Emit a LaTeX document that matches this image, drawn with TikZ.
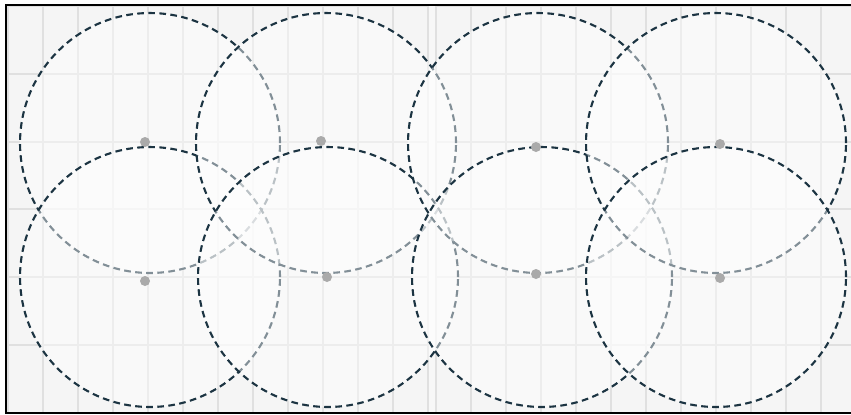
\documentclass[tikz,border=0pt]{standalone}
\usepackage{tikz}
\usetikzlibrary{calc}
\usepackage{xcolor}

\definecolor{ringline}{RGB}{28,52,66}
\definecolor{tileface}{RGB}{245,245,245}
\definecolor{tilegap}{RGB}{224,224,224}
\definecolor{hubdot}{RGB}{170,170,170}

\begin{document}
\begin{tikzpicture}[
    x=0.02cm, y=-0.02cm,
    tile/.style={fill=tileface, draw=tilegap, line width=1.2pt},
    ring/.style={draw=ringline, fill=white, fill opacity=0.45, draw opacity=1, line width=1.2pt, dash pattern=on 3.8pt off 2.5pt},
    hub/.style={fill=hubdot},
    frame/.style={draw=black, line width=0.85pt}
]
\useasboundingbox (0,0) rectangle (851,414);

% floor tiles
\begin{scope}
\clip (6,5) rectangle (851,413);
\fill[white!97!black] (6,5) rectangle (851,413);
\foreach \c in {0,...,11} {
  \foreach \r in {0,...,5} {
    \draw[tile] ({8+35*\c},{6+67.8*\r}) rectangle ++(35,67.8);
    \draw[tile] ({436+35*\c},{6+67.8*\r}) rectangle ++(35,67.8);
  }
}
\end{scope}

% ring centres
\coordinate (c1) at (150,143);
\coordinate (c2) at (150,277);
\coordinate (c3) at (326,143);
\coordinate (c4) at (328,277);
\coordinate (c5) at (538,143);
\coordinate (c6) at (542,277);
\coordinate (c7) at (716,143);
\coordinate (c8) at (716,277);

% coverage rings
\draw[ring] (c1) circle[radius=2.6cm];
\draw[ring] (c2) circle[radius=2.6cm];
\draw[ring] (c3) circle[radius=2.6cm];
\draw[ring] (c4) circle[radius=2.6cm];
\draw[ring] (c5) circle[radius=2.6cm];
\draw[ring] (c6) circle[radius=2.6cm];
\draw[ring] (c7) circle[radius=2.6cm];
\draw[ring] (c8) circle[radius=2.6cm];

% access points
\fill[hub] (145,142) circle[radius=0.1cm];
\fill[hub] (145,281) circle[radius=0.1cm];
\fill[hub] (321,141) circle[radius=0.1cm];
\fill[hub] (327,277) circle[radius=0.1cm];
\fill[hub] (536,147) circle[radius=0.1cm];
\fill[hub] (536,274) circle[radius=0.1cm];
\fill[hub] (720,144) circle[radius=0.1cm];
\fill[hub] (720,278) circle[radius=0.1cm];

% border
\draw[frame] (856,5) -- (6,5) -- (6,413) -- (856,413);

\end{tikzpicture}
\end{document}
